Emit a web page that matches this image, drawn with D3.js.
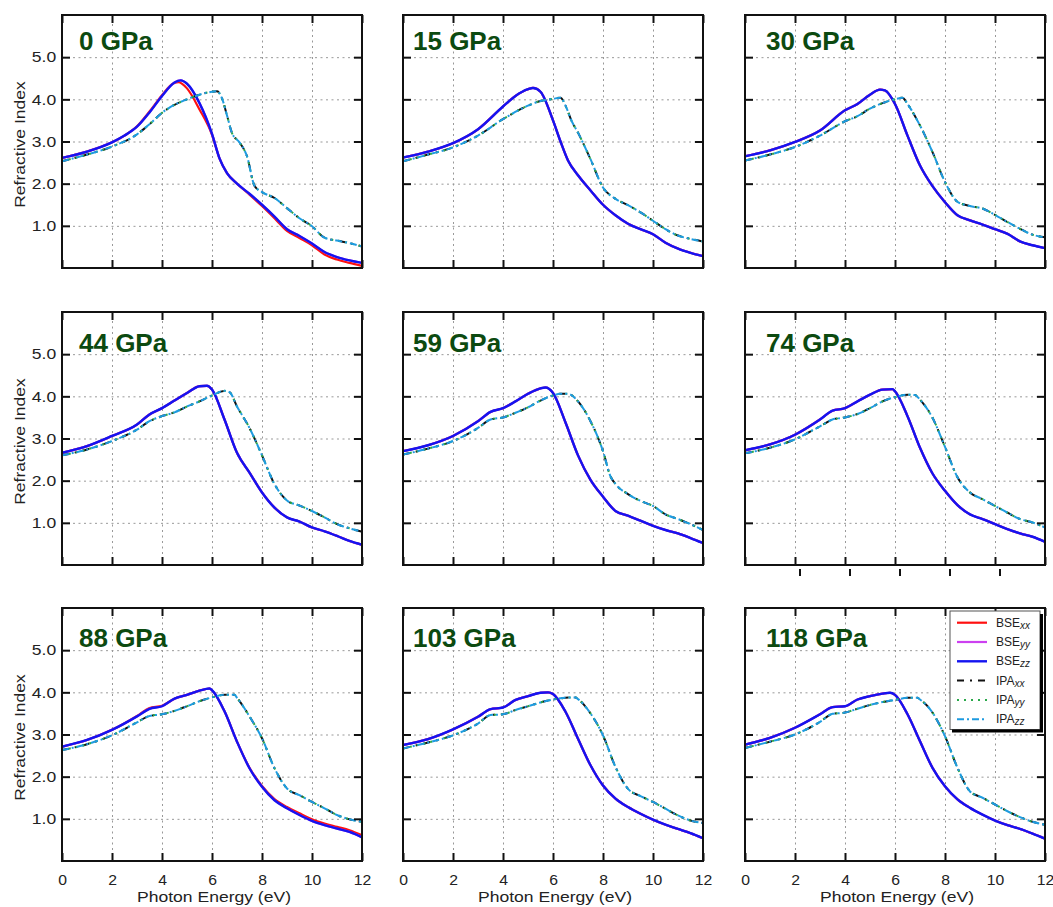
<html>

<head>
    <meta charset="utf-8">
    <title>Refractive Index vs Pressure</title>

    <style>
        body {
            padding: 0;
            margin: 0;
            background: white;
            font-family: "Liberation Sans", Arial, sans-serif;
        }

        .grid line {
            stroke: #999;
            stroke-width: 1;
            stroke-dasharray: 2, 3.5;
        }

        .ax line,
        .stray {
            stroke: #111;
            stroke-width: 2;
        }

        .ax text {
            font-family: "Liberation Sans", Arial, sans-serif;
            font-size: 15px;
            fill: #222;
        }

        .frame {
            fill: none;
            stroke: #111;
            stroke-width: 2;
        }

        .title {
            font-weight: bold;
            font-size: 26px;
            fill: #0c4a10;
        }

        .axis-label {
            font-size: 15px;
            fill: #222;
        }

        .legend text {
            font-size: 12px;
            fill: #222;
        }
    </style>
</head>

<body>

    <div id="chart"></div>

    <script src="https://d3js.org/d3.v7.min.js"></script>
    <script>
        // pressures (GPa), one panel each
        var pressures = [0, 15, 30, 44, 59, 74, 88, 103, 118];

        var xTicks = [0, 2, 4, 6, 8, 10, 12],
            gridX = [2, 4, 6, 8, 10],
            yTicks = [1, 2, 3, 4, 5];

        // [photon energy (eV), refractive index]
        var bse0 = [[0, 2.61], [1, 2.76], [2, 2.98], [2.5, 3.14], [3, 3.35], [3.5, 3.69], [4, 4.08], [4.5, 4.40], [4.75, 4.45], [5, 4.37], [5.5, 3.91], [6, 3.18], [6.3, 2.6], [6.6, 2.25], [7, 2.0], [7.5, 1.76], [8, 1.50], [8.5, 1.22], [9, 0.92], [9.5, 0.76], [10, 0.58], [10.5, 0.38], [11, 0.26], [11.5, 0.18], [12, 0.12]];
        var bseXX0 = [[0, 2.61], [1, 2.76], [2, 2.98], [2.5, 3.14], [3, 3.36], [3.5, 3.71], [4, 4.1], [4.4, 4.36], [4.65, 4.41], [5, 4.26], [5.5, 3.76], [6, 3.16], [6.3, 2.6], [6.6, 2.25], [7, 2.0], [7.5, 1.74], [8, 1.47], [8.5, 1.18], [9, 0.88], [9.5, 0.71], [10, 0.54], [10.5, 0.32], [11, 0.2], [11.5, 0.12], [12, 0.05]];
        var ipa0 = [[0, 2.53], [1, 2.69], [2, 2.88], [3, 3.17], [3.5, 3.41], [4, 3.68], [4.5, 3.87], [5, 4.0], [5.5, 4.11], [6, 4.18], [6.2, 4.19], [6.4, 4.02], [6.6, 3.62], [6.8, 3.2], [7.1, 2.98], [7.4, 2.65], [7.7, 1.95], [8, 1.80], [8.5, 1.66], [9, 1.42], [9.5, 1.18], [10, 0.99], [10.5, 0.72], [11, 0.65], [11.5, 0.59], [12, 0.51]];

        var bse15 = [[0, 2.62], [1, 2.76], [2, 2.96], [3, 3.29], [4, 3.83], [4.5, 4.08], [5, 4.24], [5.2, 4.27], [5.5, 4.18], [6, 3.5], [6.3, 3.0], [6.6, 2.55], [7, 2.2], [7.5, 1.84], [8, 1.5], [8.5, 1.25], [9, 1.05], [9.5, 0.92], [10, 0.8], [10.5, 0.6], [11, 0.46], [11.5, 0.36], [12, 0.28]];
        var ipa15 = [[0, 2.53], [1, 2.69], [2, 2.86], [3, 3.14], [4, 3.53], [5, 3.85], [5.5, 3.96], [6, 4.01], [6.3, 4.04], [6.5, 3.85], [6.75, 3.48], [7, 3.21], [7.5, 2.58], [8, 1.91], [8.5, 1.64], [9, 1.49], [9.5, 1.32], [10, 1.12], [10.5, 0.92], [11, 0.77], [11.5, 0.69], [12, 0.63]];

        var bse30 = [[0, 2.65], [1, 2.79], [2, 2.99], [3, 3.26], [4, 3.74], [4.5, 3.89], [5, 4.11], [5.4, 4.23], [5.6, 4.21], [6, 3.89], [6.5, 3.14], [7, 2.43], [7.5, 1.94], [8, 1.56], [8.5, 1.25], [9, 1.13], [9.5, 1.03], [10, 0.92], [10.5, 0.81], [11, 0.63], [11.5, 0.54], [12, 0.47]];
        var ipa30 = [[0, 2.55], [1, 2.69], [2, 2.87], [3, 3.14], [4, 3.48], [4.5, 3.6], [5, 3.78], [5.5, 3.91], [6, 4.0], [6.3, 4.04], [6.5, 3.89], [7, 3.38], [7.5, 2.75], [8, 2.04], [8.5, 1.57], [9, 1.47], [9.5, 1.41], [10, 1.26], [10.5, 1.09], [11, 0.93], [11.5, 0.79], [12, 0.73]];

        var bse44 = [[0, 2.66], [1, 2.82], [2, 3.06], [3, 3.33], [3.5, 3.57], [4, 3.72], [4.5, 3.9], [5, 4.08], [5.5, 4.24], [5.8, 4.25], [6, 4.16], [6.5, 3.45], [7, 2.66], [7.5, 2.19], [8, 1.72], [8.5, 1.36], [9, 1.13], [9.5, 1.03], [10, 0.89], [10.5, 0.8], [11, 0.69], [11.5, 0.57], [12, 0.48]];
        var ipa44 = [[0, 2.6], [1, 2.74], [2, 2.94], [3, 3.21], [3.5, 3.41], [4, 3.53], [4.5, 3.62], [5, 3.76], [5.5, 3.88], [6, 4.02], [6.5, 4.13], [6.7, 4.1], [7, 3.76], [7.5, 3.25], [8, 2.6], [8.5, 1.92], [9, 1.53], [9.5, 1.41], [10, 1.28], [10.5, 1.13], [11, 0.97], [11.5, 0.87], [12, 0.79]];

        var bse59 = [[0, 2.7], [1, 2.84], [2, 3.06], [3, 3.41], [3.5, 3.63], [4, 3.72], [4.5, 3.88], [5, 4.06], [5.5, 4.19], [5.7, 4.21], [6, 4.08], [6.5, 3.38], [7, 2.6], [7.5, 2.02], [8, 1.62], [8.5, 1.28], [9, 1.17], [9.5, 1.05], [10, 0.93], [10.5, 0.83], [11, 0.75], [11.5, 0.64], [12, 0.52]];
        var ipa59 = [[0, 2.62], [1, 2.76], [2, 2.94], [3, 3.25], [3.5, 3.45], [4, 3.5], [4.5, 3.61], [5, 3.74], [5.5, 3.9], [6, 4.02], [6.3, 4.06], [6.6, 4.06], [7, 3.88], [7.5, 3.41], [8, 2.7], [8.3, 2.1], [8.5, 1.92], [9, 1.68], [9.5, 1.52], [10, 1.4], [10.5, 1.2], [11, 1.09], [11.5, 0.97], [12, 0.83]];

        var bse74 = [[0, 2.72], [1, 2.86], [2, 3.09], [3, 3.45], [3.5, 3.66], [4, 3.72], [4.5, 3.88], [5, 4.04], [5.5, 4.16], [5.9, 4.17], [6, 4.12], [6.5, 3.53], [7, 2.78], [7.5, 2.17], [8, 1.76], [8.5, 1.42], [9, 1.2], [9.5, 1.09], [10, 0.97], [10.5, 0.85], [11, 0.75], [11.5, 0.67], [12, 0.55]];
        var ipa74 = [[0, 2.65], [1, 2.78], [2, 2.98], [3, 3.29], [3.5, 3.45], [4, 3.5], [4.5, 3.58], [5, 3.72], [5.5, 3.88], [6, 3.98], [6.5, 4.04], [6.8, 4.03], [7, 3.92], [7.5, 3.49], [8, 2.8], [8.5, 2.08], [9, 1.72], [9.5, 1.56], [10, 1.4], [10.5, 1.24], [11, 1.09], [11.5, 1.01], [12, 0.89]];

        var bse88 = [[0, 2.71], [1, 2.87], [2, 3.11], [3, 3.43], [3.5, 3.61], [4, 3.67], [4.5, 3.85], [5, 3.94], [5.5, 4.04], [5.9, 4.09], [6, 4.05], [6.5, 3.55], [7, 2.83], [7.5, 2.2], [8, 1.76], [8.5, 1.44], [9, 1.25], [9.5, 1.09], [10, 0.95], [10.5, 0.85], [11, 0.77], [11.5, 0.69], [12, 0.56]];
        var bseXX88 = [[0, 2.71], [1, 2.87], [2, 3.11], [3, 3.44], [3.5, 3.63], [4, 3.68], [4.5, 3.85], [5, 3.94], [5.5, 4.04], [5.9, 4.09], [6, 4.05], [6.5, 3.55], [7, 2.83], [7.5, 2.21], [8, 1.78], [8.5, 1.47], [9, 1.28], [9.5, 1.13], [10, 0.99], [10.5, 0.89], [11, 0.81], [11.5, 0.73], [12, 0.61]];
        var ipa88 = [[0, 2.63], [1, 2.77], [2, 2.98], [3, 3.29], [3.5, 3.44], [4, 3.48], [4.5, 3.56], [5, 3.67], [5.5, 3.79], [6, 3.88], [6.5, 3.94], [6.9, 3.94], [7, 3.87], [7.5, 3.43], [8, 2.91], [8.5, 2.2], [9, 1.72], [9.5, 1.56], [10, 1.4], [10.5, 1.25], [11, 1.09], [11.5, 0.99], [12, 0.93]];

        var bse103 = [[0, 2.75], [1, 2.89], [2, 3.12], [3, 3.42], [3.5, 3.6], [4, 3.64], [4.5, 3.82], [5, 3.91], [5.5, 3.99], [5.8, 4.0], [6, 3.96], [6.5, 3.54], [7, 2.9], [7.5, 2.27], [8, 1.79], [8.5, 1.48], [9, 1.28], [9.5, 1.12], [10, 0.98], [10.5, 0.86], [11, 0.76], [11.5, 0.66], [12, 0.54]];
        var ipa103 = [[0, 2.67], [1, 2.81], [2, 2.98], [3, 3.26], [3.5, 3.46], [4, 3.48], [4.5, 3.58], [5, 3.67], [5.5, 3.76], [6, 3.83], [6.5, 3.87], [6.9, 3.88], [7, 3.84], [7.5, 3.5], [8, 2.98], [8.5, 2.23], [9, 1.71], [9.5, 1.54], [10, 1.4], [10.5, 1.24], [11, 1.08], [11.5, 0.96], [12, 0.9]];

        var bse118 = [[0, 2.76], [1, 2.92], [2, 3.16], [3, 3.48], [3.5, 3.65], [4, 3.67], [4.5, 3.83], [5, 3.91], [5.5, 3.97], [5.8, 3.99], [6, 3.94], [6.5, 3.48], [7, 2.84], [7.5, 2.21], [8, 1.77], [8.5, 1.46], [9, 1.26], [9.5, 1.1], [10, 0.96], [10.5, 0.85], [11, 0.76], [11.5, 0.65], [12, 0.53]];
        var ipa118 = [[0, 2.68], [1, 2.83], [2, 3.0], [3, 3.3], [3.5, 3.49], [4, 3.52], [4.5, 3.61], [5, 3.7], [5.5, 3.77], [6, 3.82], [6.5, 3.87], [6.9, 3.87], [7, 3.83], [7.5, 3.52], [8, 2.96], [8.5, 2.21], [9, 1.65], [9.5, 1.5], [10, 1.34], [10.5, 1.18], [11, 1.04], [11.5, 0.93], [12, 0.86]];

        var bseData = [bse0, bse15, bse30, bse44, bse59, bse74, bse88, bse103, bse118],
            ipaData = [ipa0, ipa15, ipa30, ipa44, ipa59, ipa74, ipa88, ipa103, ipa118],
            bseXXData = { 0: bseXX0, 88: bseXX88 };

        var series = [
            { key: "BSExx", name: "BSE", sub: "xx", color: "#ff1010", width: 2.2, dash: null },
            { key: "BSEyy", name: "BSE", sub: "yy", color: "#cc40f0", width: 2.2, dash: null },
            { key: "BSEzz", name: "BSE", sub: "zz", color: "#1414f0", width: 2.4, dash: null },
            { key: "IPAxx", name: "IPA", sub: "xx", color: "#111111", width: 2, dash: "7,6,2,6" },
            { key: "IPAyy", name: "IPA", sub: "yy", color: "#2aa84a", width: 2, dash: "2,5" },
            { key: "IPAzz", name: "IPA", sub: "zz", color: "#1e9be0", width: 2, dash: "7,3,2,3" }
        ];

        // layout
        var panelW = 300,
            panelH = 253,
            colX = [62, 403, 745],
            rowY = [15, 312, 608],
            titleDx = [17, 10, 21],
            titleDy = [35, 39.5, 39],
            textStretch = 1.17;

        var panels = pressures.map(function (p, i) {
            return {
                pressure: p,
                col: i % 3,
                row: Math.floor(i / 3),
                bse: bseData[i],
                bseXX: bseXXData[p] || bseData[i],
                ipa: ipaData[i]
            };
        });

        function seriesData(pn, key) {
            if (key === "BSExx") return pn.bseXX;
            if (key.indexOf("BSE") === 0) return pn.bse;
            return pn.ipa;
        }

        var svg = d3.select("#chart")
            .append("svg")
            .attr("width", 1053)
            .attr("height", 907);

        svg.append("defs")
            .append("clipPath")
            .attr("id", "plot-clip")
            .append("rect")
            .attr("width", panelW)
            .attr("height", panelH);

        var x = d3.scaleLinear().domain([0, 12]).range([0, panelW]);
        var y = d3.scaleLinear().domain([0, 6]).range([panelH, 0]);

        var line = d3.line()
            .x(function (d) { return x(d[0]); })
            .y(function (d) { return y(d[1]); })
            .curve(d3.curveMonotoneX);

        panels.forEach(function (pn) {
            var g = svg.append("g")
                .attr("transform", "translate(" + colX[pn.col] + "," + rowY[pn.row] + ")");

            // dotted grid
            g.append("g")
                .attr("class", "grid")
                .attr("transform", "translate(0," + panelH + ")")
                .call(d3.axisBottom(x).tickValues(gridX).tickSize(-panelH).tickFormat(""));
            g.append("g")
                .attr("class", "grid")
                .call(d3.axisLeft(y).tickValues(yTicks).tickSize(-panelW).tickFormat(""));
            g.selectAll(".grid .domain").remove();

            // curves
            var plot = g.append("g").attr("clip-path", "url(#plot-clip)");
            series.forEach(function (s) {
                plot.append("path")
                    .datum(seriesData(pn, s.key))
                    .attr("d", line)
                    .attr("fill", "none")
                    .attr("stroke", s.color)
                    .attr("stroke-width", s.width)
                    .attr("stroke-dasharray", s.dash);
            });

            // inward ticks on all four sides
            g.append("g")
                .attr("class", "ax ax-x")
                .attr("transform", "translate(0," + panelH + ")")
                .call(d3.axisBottom(x).tickValues(xTicks).tickSize(-8).tickPadding(13)
                    .tickFormat(pn.row === 2 ? d3.format("d") : ""));
            g.append("g")
                .attr("class", "ax")
                .call(d3.axisTop(x).tickValues(xTicks).tickSize(-8).tickFormat(""));
            g.append("g")
                .attr("class", "ax ax-y")
                .call(d3.axisLeft(y).tickValues(yTicks).tickSize(-8).tickPadding(5)
                    .tickFormat(pn.col === 0 ? d3.format(".1f") : ""));
            g.append("g")
                .attr("class", "ax")
                .attr("transform", "translate(" + panelW + ",0)")
                .call(d3.axisRight(y).tickValues(yTicks).tickSize(-8).tickFormat(""));
            g.selectAll(".ax .domain").remove();
            g.selectAll(".ax-y text").attr("transform", "scale(" + textStretch + ",1)");
            g.selectAll(".ax-x text").attr("transform", "scale(1.05,1)");

            // stray ticks hanging below the 74 GPa panel
            if (pn.pressure === 74) {
                g.append("g")
                    .selectAll("line")
                    .data(gridX)
                    .join("line")
                    .attr("class", "stray")
                    .attr("x1", function (d) { return x(d) + 5; })
                    .attr("x2", function (d) { return x(d) + 5; })
                    .attr("y1", panelH + 4)
                    .attr("y2", panelH + 11);
            }

            // legend in the last panel
            if (pn.pressure === 118) {
                var lg = g.append("g")
                    .attr("class", "legend")
                    .attr("transform", "translate(205,3)");
                lg.append("rect")
                    .attr("width", 90)
                    .attr("height", 118.5)
                    .attr("fill", "white")
                    .attr("stroke", "#555")
                    .attr("stroke-width", 1);
                lg.append("path")
                    .attr("d", "M91.5,3 V120 H2")
                    .attr("fill", "none")
                    .attr("stroke", "#000")
                    .attr("stroke-width", 3);

                var item = lg.selectAll(".item")
                    .data(series)
                    .join("g")
                    .attr("class", "item")
                    .attr("transform", function (d, i) { return "translate(0," + (11.7 + i * 19.3) + ")"; });
                item.append("line")
                    .attr("x1", 7)
                    .attr("x2", 37)
                    .attr("stroke", function (d) { return d.color; })
                    .attr("stroke-width", function (d) { return d.width; })
                    .attr("stroke-dasharray", function (d) { return d.dash; });
                var t = item.append("text")
                    .attr("x", 46)
                    .attr("y", 4);
                t.append("tspan").text(function (d) { return d.name; });
                t.append("tspan")
                    .attr("font-style", "italic")
                    .attr("font-size", "10px")
                    .attr("dy", 2)
                    .text(function (d) { return d.sub; });
            }

            g.append("rect")
                .attr("class", "frame")
                .attr("width", panelW)
                .attr("height", panelH);

            g.append("text")
                .attr("class", "title")
                .attr("x", titleDx[pn.col])
                .attr("y", titleDy[pn.row])
                .text(pn.pressure + " GPa");

            if (pn.col === 0) {
                g.append("text")
                    .attr("class", "axis-label")
                    .attr("text-anchor", "middle")
                    .attr("transform", "translate(" + (25 - colX[0]) + "," + (panelH / 2 + 3) + ") rotate(-90) scale(" + textStretch + ",1)")
                    .text("Refractive Index");
            }
            if (pn.row === 2) {
                g.append("text")
                    .attr("class", "axis-label")
                    .attr("text-anchor", "middle")
                    .attr("transform", "translate(" + (panelW / 2 + 2) + "," + (panelH + 41) + ") scale(" + textStretch + ",1)")
                    .text("Photon Energy (eV)");
            }
        });
    </script>
</body>

</html>
